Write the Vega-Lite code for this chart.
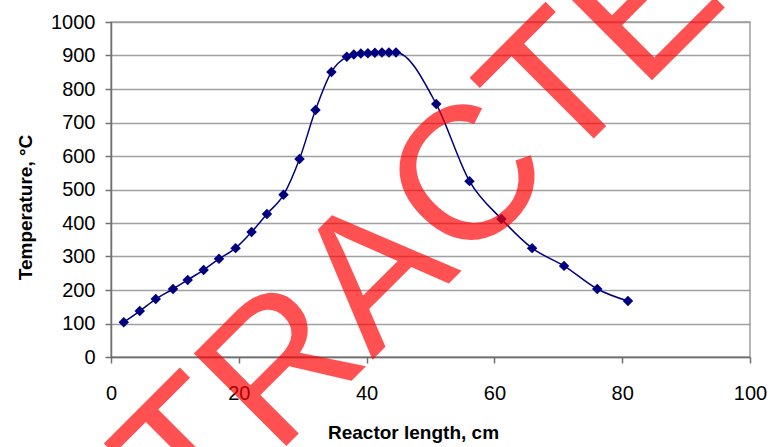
{
  "$schema": "https://vega.github.io/schema/vega-lite/v6.json",
  "width": 639,
  "height": 335,
  "autosize": {"type": "none"},
  "padding": {"left": 111, "top": 22, "right": 21, "bottom": 90},
  "background": "white",
  "config": {
    "view": {"stroke": "#a0a0a0", "strokeWidth": 1.5},
    "font": "Liberation Sans",
    "axis": {
      "labelOverlap": false,
      "labelFlush": false,
      "domainColor": "#707070", "domainWidth": 1.5,
      "tickColor": "#707070", "tickWidth": 1.5, "tickSize": 6,
      "labelFontSize": 20, "labelColor": "#000000", "labelFont": "Liberation Sans",
      "titleFont": "Liberation Sans", "titleFontSize": 19, "titleFontWeight": "bold", "titleColor": "#000000"
    },
    "axisX": {"grid": false, "tickCount": 20, "labelPadding": 20},
    "axisY": {"grid": true, "gridColor": "#a0a0a0", "gridWidth": 1.5, "tickCount": 20, "labelPadding": 10}
  },
  "encoding": {
    "x": {
      "field": "length", "type": "quantitative",
      "scale": {"domain": [0, 100], "nice": false, "zero": false},
      "axis": {
        "values": [0, 20, 40, 60, 80, 100],
        "tickCount": 20,
        "format": "d",
        "title": "Reactor length, cm",
        "titleX": 302, "titleY": 66, "titleBaseline": "top", "titleAlign": "center"
      }
    },
    "y": {
      "field": "temp", "type": "quantitative",
      "scale": {"domain": [0, 1000], "nice": false},
      "axis": {
        "values": [0, 100, 200, 300, 400, 500, 600, 700, 800, 900, 1000],
        "tickCount": 20,
        "format": "d",
        "title": "Temperature, °C",
        "titleAngle": -90, "titleX": -86, "titleY": 185,
        "titleBaseline": "middle", "titleAlign": "center"
      }
    }
  },
  "layer": [
    {
      "data": {"values": [
        {"length": 2.0, "temp": 104},
        {"length": 4.5, "temp": 137},
        {"length": 7.0, "temp": 173},
        {"length": 9.7, "temp": 203},
        {"length": 12.0, "temp": 230},
        {"length": 14.5, "temp": 260},
        {"length": 16.9, "temp": 293},
        {"length": 19.5, "temp": 325},
        {"length": 22.0, "temp": 373},
        {"length": 24.4, "temp": 427},
        {"length": 27.0, "temp": 484},
        {"length": 29.5, "temp": 591},
        {"length": 32.0, "temp": 737},
        {"length": 34.5, "temp": 851},
        {"length": 36.9, "temp": 896},
        {"length": 38.0, "temp": 903},
        {"length": 39.1, "temp": 906},
        {"length": 40.2, "temp": 907},
        {"length": 41.3, "temp": 908},
        {"length": 42.4, "temp": 909},
        {"length": 43.5, "temp": 909},
        {"length": 44.6, "temp": 909},
        {"length": 50.9, "temp": 755},
        {"length": 56.1, "temp": 525},
        {"length": 61.1, "temp": 412},
        {"length": 65.9, "temp": 325},
        {"length": 70.9, "temp": 272},
        {"length": 76.1, "temp": 203},
        {"length": 80.9, "temp": 167}
      ]},
      "layer": [
        {
          "mark": {"type": "line", "interpolate": "monotone", "color": "#000080", "strokeWidth": 1.5}
        },
        {
          "mark": {"type": "point", "shape": "diamond", "filled": true, "size": 110, "color": "#000080", "opacity": 1}
        }
      ]
    },
    {
      "data": {"values": [{"label": "RETRACTED", "length": 47.9, "temp": 125}]},
      "mark": {
        "type": "text", "angle": 315, "fontSize": 190, "font": "Liberation Sans",
        "color": "#ff0000", "opacity": 0.68, "align": "center", "baseline": "alphabetic"
      },
      "encoding": {
        "text": {"field": "label"}
      }
    }
  ]
}
